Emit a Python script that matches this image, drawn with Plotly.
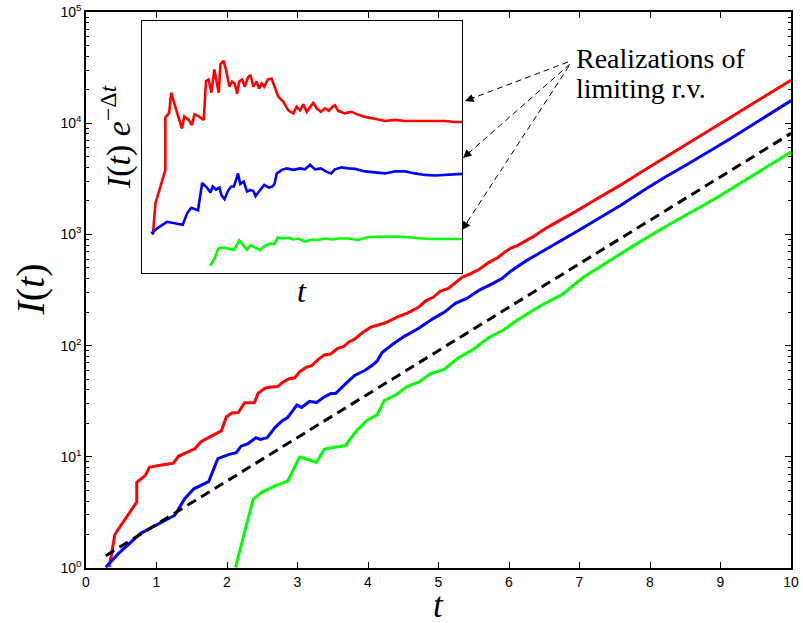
import numpy as np
import plotly.graph_objects as go

# Growth rate used to rescale I(t) in the inset
DELTA = 0.9

# Rescaled realizations W(t) = I(t) * exp(-DELTA * t)
t_red = [0.33, 0.41, 0.72, 0.72, 0.84, 0.90, 1.03, 1.24, 1.31, 1.45, 1.55, 1.63, 1.76, 1.92,
         1.99, 2.07, 2.16, 2.25, 2.33, 2.39, 2.44, 2.54, 2.62, 2.72, 2.80, 2.89, 2.96, 3.03,
         3.12, 3.20, 3.30, 3.38, 3.47, 3.57, 3.65, 3.73, 3.81, 3.92, 4.04, 4.13, 4.25, 4.41,
         4.56, 4.72, 4.82, 4.93, 5.03, 5.14, 5.24, 5.34, 5.45, 5.58, 5.71, 5.83, 5.94, 6.02,
         6.12, 6.33, 6.54, 6.75, 6.96, 7.17, 7.38, 7.58, 7.90, 8.21, 8.63, 9.04, 9.46, 9.77, 10.0]
w_red = [0.76, 1.39, 2.05, 3.09, 3.18, 3.58, 3.30, 2.87, 3.11, 3.04, 2.94, 3.15, 3.11, 3.04,
         3.81, 3.84, 3.58, 4.04, 3.76, 3.58, 4.14, 4.21, 4.02, 3.70, 3.80, 3.76, 3.56, 3.80,
         3.84, 3.70, 3.88, 3.93, 3.70, 3.80, 3.66, 3.76, 3.70, 3.84, 3.86, 3.70, 3.50, 3.40,
         3.23, 3.17, 3.30, 3.23, 3.35, 3.20, 3.30, 3.38, 3.27, 3.20, 3.27, 3.22, 3.30, 3.33,
         3.22, 3.17, 3.20, 3.14, 3.10, 3.08, 3.05, 3.02, 3.04, 3.02, 3.02, 3.02, 3.02, 3.00, 3.00]

t_blue = [0.28, 0.46, 0.77, 1.03, 1.26, 1.40, 1.53, 1.74, 1.87, 2.02, 2.13, 2.20, 2.30, 2.41,
          2.47, 2.57, 2.68, 2.78, 2.86, 2.93, 2.99, 3.06, 3.17, 3.27, 3.38, 3.47, 3.54, 3.68,
          3.81, 3.96, 4.06, 4.13, 4.20, 4.36, 4.51, 4.72, 4.93, 5.08, 5.24, 5.40, 5.58, 5.76,
          5.90, 6.02, 6.23, 6.44, 6.65, 6.96, 7.27, 7.58, 7.90, 8.21, 8.52, 8.83, 9.15, 9.46,
          9.77, 10.0]
w_blue = [0.79, 0.89, 1.02, 0.99, 0.96, 1.19, 1.30, 1.25, 1.79, 1.70, 1.60, 1.72, 1.66, 1.70,
          1.55, 1.47, 1.64, 1.72, 1.72, 1.85, 1.98, 1.77, 1.82, 1.62, 1.65, 1.63, 1.53, 1.65,
          1.75, 1.70, 1.72, 1.77, 1.98, 2.05, 2.08, 2.05, 2.08, 2.06, 2.15, 2.06, 2.08, 2.01,
          1.98, 2.06, 2.10, 2.08, 2.07, 2.02, 2.00, 1.98, 2.02, 2.02, 1.98, 1.95, 1.94, 1.95,
          1.97, 1.97]

t_green = [2.12, 2.26, 2.37, 2.49, 2.68, 2.86, 3.03, 3.17, 3.27, 3.38, 3.52, 3.68, 3.83, 3.99,
           4.13, 4.23, 4.41, 4.56, 4.72, 4.88, 5.08, 5.29, 5.50, 5.71, 5.92, 6.12, 6.44, 6.75,
           7.06, 7.38, 7.79, 8.21, 8.63, 8.94, 9.36, 9.77, 10.0]
w_green = [0.15, 0.30, 0.49, 0.51, 0.49, 0.46, 0.65, 0.54, 0.47, 0.56, 0.51, 0.46, 0.54, 0.59,
           0.58, 0.71, 0.69, 0.71, 0.67, 0.69, 0.63, 0.67, 0.66, 0.69, 0.67, 0.69, 0.69, 0.66,
           0.72, 0.73, 0.73, 0.72, 0.70, 0.68, 0.68, 0.68, 0.68]

# Reference growth exp(DELTA * t)
t_ref = [0.28, 10.0]
i_ref = [1.29, 8100.0]

# Tick labels
x_ticks = list(range(0, 11))
y_tickvals = [1, 10, 100, 1000, 10000, 100000]
y_ticktext = ["10<sup>%d</sup>" % k for k in range(6)]

series = [
    (t_red, w_red, "#ff0000"),
    (t_blue, w_blue, "#0000ff"),
    (t_green, w_green, "#00ff00"),
]

fig = go.Figure()

# Main panel: I(t) on a log scale
for t, w, color in series:
    t_arr = np.array(t)
    i_vals = np.array(w) * np.exp(DELTA * t_arr)
    fig.add_trace(go.Scatter(x=t_arr, y=i_vals, mode="lines",
                             line=dict(color=color, width=3),
                             xaxis="x", yaxis="y", hoverinfo="skip"))

fig.add_trace(go.Scatter(x=t_ref, y=i_ref, mode="lines",
                         line=dict(color="black", width=3, dash="10px,6px"),
                         xaxis="x", yaxis="y", hoverinfo="skip"))

# Inset: rescaled process
for t, w, color in series:
    fig.add_trace(go.Scatter(x=t, y=w, mode="lines",
                             line=dict(color=color, width=2.6),
                             xaxis="x2", yaxis="y2", hoverinfo="skip"))

tick_font = dict(family="Liberation Sans, Arial, sans-serif", size=14, color="black")
serif = "Liberation Serif, Times New Roman, serif"

minor_y = [m * 10 ** k for k in range(5) for m in range(2, 10)]

fig.update_layout(
    width=803, height=623,
    margin=dict(l=86, r=12, t=12, b=55, autoexpand=False),
    paper_bgcolor="white", plot_bgcolor="white",
    showlegend=False,
    xaxis=dict(range=[0, 10], tickvals=x_ticks, ticks="inside", ticklen=6, tickwidth=1,
               tickcolor="black", showline=True, linewidth=1.5, linecolor="black",
               mirror="allticks", showgrid=False, zeroline=False, tickfont=tick_font,
               automargin=False),
    yaxis=dict(type="log", range=[0, 5], tickvals=y_tickvals, ticktext=y_ticktext,
               ticks="inside", ticklen=6, tickwidth=1, tickcolor="black",
               minor=dict(tickvals=minor_y, ticks="inside", ticklen=3, tickwidth=1,
                          tickcolor="black", showgrid=False),
               showline=True, linewidth=1.5, linecolor="black", mirror="allticks",
               showgrid=False, zeroline=False, tickfont=tick_font, automargin=False),
    xaxis2=dict(domain=[0.0799, 0.5338], anchor="y2", range=[0, 10], showline=True,
                mirror=True, linecolor="black", linewidth=1.2, ticks="",
                showticklabels=False, showgrid=False, zeroline=False, automargin=False),
    yaxis2=dict(domain=[0.530, 0.9838], anchor="x2", range=[0, 5], showline=True,
                mirror=True, linecolor="black", linewidth=1.2, ticks="",
                showticklabels=False, showgrid=False, zeroline=False, automargin=False),
)

annotations = [
    dict(text="<i>I</i>(<i>t</i>)", x=-0.08, y=0.5, xref="paper", yref="paper",
         textangle=-90, showarrow=False, xanchor="center", yanchor="middle",
         font=dict(family=serif, size=40, color="black")),
    dict(text="<i>t</i>", x=0.4993, y=-0.068, xref="paper", yref="paper",
         showarrow=False, xanchor="center", yanchor="middle",
         font=dict(family=serif, size=35, color="black")),
    dict(text="<i>I</i>(<i>t</i>) <i>e</i><sup>\u2212\u0394<i>t</i></sup>", x=0.0426, y=0.775,
         xref="paper", yref="paper", textangle=-90, showarrow=False,
         xanchor="center", yanchor="middle",
         font=dict(family=serif, size=34, color="black")),
    dict(text="<i>t</i>", x=0.3064, y=0.498, xref="paper", yref="paper",
         showarrow=False, xanchor="center", yanchor="middle",
         font=dict(family=serif, size=32, color="black")),
    dict(text="Realizations of", x=0.6915, y=0.917, xref="paper", yref="paper",
         showarrow=False, xanchor="left", yanchor="middle",
         font=dict(family=serif, size=28, color="black")),
    dict(text="limiting r.v.", x=0.6915, y=0.862, xref="paper", yref="paper",
         showarrow=False, xanchor="left", yanchor="middle",
         font=dict(family=serif, size=28, color="black")),
]

# Dashed pointers from the caption to the limiting values in the inset
pointers = [
    ((0.6837, 0.9101), (0.5376, 0.8399), (11, -4)),
    ((0.6865, 0.9065), (0.5348, 0.7374), (9, -8)),
    ((0.6851, 0.9029), (0.5333, 0.6079), (7, -10)),
]
shapes = []
for (tx, ty), (hx, hy), (ax, ay) in pointers:
    shapes.append(dict(type="line", xref="paper", yref="paper", x0=tx, y0=ty, x1=hx, y1=hy,
                       line=dict(color="black", width=1, dash="6px,4px")))
    annotations.append(dict(text="", x=hx, y=hy, xref="paper", yref="paper", ax=ax, ay=ay,
                            showarrow=True, arrowhead=2, arrowsize=1.4, arrowwidth=1.2,
                            arrowcolor="black"))

fig.update_layout(annotations=annotations, shapes=shapes)

fig.write_html("out.html")
